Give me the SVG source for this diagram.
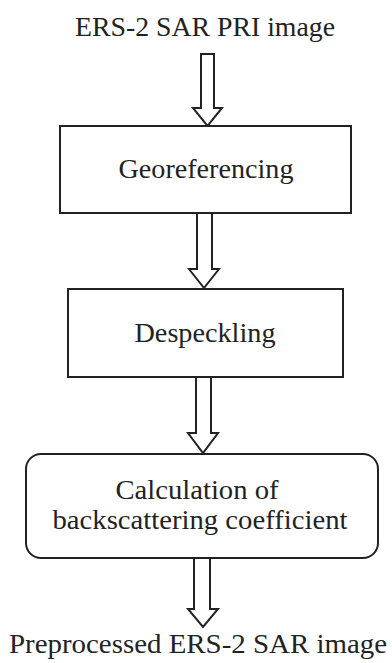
<svg xmlns="http://www.w3.org/2000/svg" width="392" height="663" viewBox="0 0 392 663">
<style>
.box{fill:#fff;stroke:#222;stroke-width:2}
.arr{fill:#fff;stroke:#222;stroke-width:2;stroke-linejoin:miter}
text{font-family:"Liberation Serif","Times New Roman",serif;font-size:27px;fill:#222;text-anchor:middle}
</style>
<rect width="392" height="663" fill="#fff"/>
<g id="connectors">
<path class="arr" d="M201,54 H214 V108 H222 L207.5,126 L193,108 H201 Z"/>
<path class="arr" d="M197,213 H212 V269 H219 L204,288 L189,269 H197 Z"/>
<path class="arr" d="M196,377 H211 V433 H218 L203,453 L188,433 H196 Z"/>
<path class="arr" d="M194,558 H210 V609 H218 L203,627 L188,609 H194 Z"/>
</g>
<g id="input"><text x="205" y="36" textLength="260" lengthAdjust="spacingAndGlyphs">ERS-2 SAR PRI image</text></g>
<g id="georef"><rect class="box" x="60" y="126" width="291" height="87"/><text x="206" y="178" textLength="175" lengthAdjust="spacingAndGlyphs">Georeferencing</text></g>
<g id="despeckle"><rect class="box" x="68" y="289" width="275" height="88"/><text x="205" y="342" textLength="141" lengthAdjust="spacingAndGlyphs">Despeckling</text></g>
<g id="calc"><rect class="box" x="26" y="454" width="352" height="104" rx="15" ry="15"/><text x="197" y="499" textLength="163" lengthAdjust="spacingAndGlyphs">Calculation of</text><text x="200" y="529" textLength="295" lengthAdjust="spacingAndGlyphs">backscattering coefficient</text></g>
<g id="output"><text x="198" y="653" style="font-size:28px" textLength="378" lengthAdjust="spacingAndGlyphs">Preprocessed ERS-2 SAR image</text></g>
</svg>
